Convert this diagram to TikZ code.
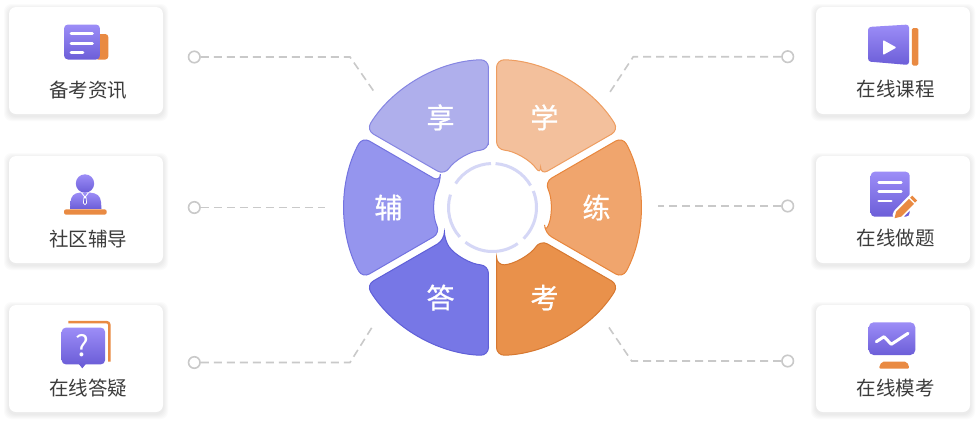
\documentclass[tikz,border=0pt]{standalone}
\usepackage{fontspec}
\newfontfamily\cjk{Noto Sans CJK SC}
\newfontfamily\cjkb{Noto Sans CJK SC}[FakeBold=0.7]
\usetikzlibrary{calc}
\definecolor{pu1}{HTML}{9C8DF7}
\definecolor{pu2}{HTML}{6C5ED8}
\definecolor{org}{HTML}{E98A42}
\definecolor{txt}{HTML}{3C3C3C}
\definecolor{lnc}{HTML}{C9C9C9}
\definecolor{ringc}{HTML}{D5D7F6}
\definecolor{xiangF}{HTML}{AFAFEC}\definecolor{xiangD}{HTML}{8585E2}
\definecolor{fuF}{HTML}{9595EE}\definecolor{fuD}{HTML}{7373E0}
\definecolor{daF}{HTML}{7777E6}\definecolor{daD}{HTML}{5F5FD8}
\definecolor{xueF}{HTML}{F3C09C}\definecolor{xueD}{HTML}{EE9D60}
\definecolor{lianF}{HTML}{F0A56D}\definecolor{lianD}{HTML}{E8863C}
\definecolor{kaoF}{HTML}{E9914B}\definecolor{kaoD}{HTML}{D77830}
\tikzset{
  card/.style={fill=white, rounded corners=7pt, minimum width=154pt, minimum height=107pt, inner sep=0pt},
  lbl/.style={text=txt, font=\cjk\fontsize{19.5}{22}\selectfont, inner sep=0pt},
  seglbl/.style={text=white, font=\cjkb\fontsize{28}{30}\selectfont, inner sep=0pt},
  dot/.style={circle, draw=lnc, line width=1.6pt, fill=white, minimum size=11.5pt, inner sep=0pt},
  conn/.style={draw=lnc, line width=1.6pt, dash pattern=on 8pt off 5pt},
  grad/.style={top color=pu1, bottom color=pu2},
  wline/.style={white, line width=2.6pt, line cap=round}
}
\newcommand\wseg[5]{%
  \filldraw[fill=#3, draw=#4, line width=1pt, rounded corners=8pt]
    (#1+4.02:58) -- (#1+1.55:148) arc[start angle=#1+1.55, end angle=#2-1.55, radius=148]
    -- (#2-4.02:58) arc[start angle=#2-4.02, end angle=#1+4.02, radius=58] -- cycle;
  \node[seglbl] (#5) at ({(#1+#2)/2}:104) {};}
\begin{document}
\begin{tikzpicture}[x=1pt,y=-1pt]
\useasboundingbox (0,0) rectangle (980,424);
\fill[white] (0,0) rectangle (980,424);
% card shadows
\foreach \cx/\cy in {86/60.5,86/209.5,86/358.5,893/60.5,893/209.5,893/358.5}{
  \foreach \k in {1,...,5}{
    \fill[black, opacity=0.016, rounded corners=7pt]
      (\cx-77-\k,\cy-53.5-\k+2) rectangle (\cx+77+\k,\cy+53.5+\k+2);
  }
}
\node[card] (c1) at (86,60.5) {};
\node[card] (c2) at (86,209.5) {};
\node[card] (c3) at (86,358.5) {};
\node[card] (c4) at (893,60.5) {};
\node[card] (c5) at (893,209.5) {};
\node[card] (c6) at (893,358.5) {};
\node[lbl] (t1) at (88,90) {备考资讯};
\node[lbl] (t2) at (88,239) {社区辅导};
\node[lbl] (t3) at (88,388) {在线答疑};
\node[lbl] (t4) at (895.5,89.5) {在线课程};
\node[lbl] (t5) at (895.5,238.5) {在线做题};
\node[lbl] (t6) at (895.5,388) {在线模考};
% icon 1
\fill[org, rounded corners=3pt] (95,34) rectangle (108.3,59.5);
\shade[grad, rounded corners=4pt] (64,24.5) rectangle (100,59.5);
\draw[wline] (71,33.5) -- (92.5,33.5);
\draw[wline] (71,43.2) -- (92.5,43.2);
\draw[wline] (71,52.7) -- (83,52.7);
% icon 2
\shade[grad] (85,183.5) circle (9.2);
\shade[grad] (70,208.8) -- (70.5,202) .. controls (71,196) and (74,193) .. (80,192.6) -- (90,192.6) .. controls (97,193) and (100.5,196) .. (101,202) -- (101.5,208.8) -- cycle;
\draw[white, line width=0.9pt] (81.5,192.6) -- (85,197.3) -- (88.5,192.6);
\draw[white, line width=0.8pt, fill=pu2] (84,197.6) -- (86,197.6) -- (86.6,203) -- (85,204.6) -- (83.4,203) -- cycle;
\fill[org, rounded corners=2pt] (64,209.4) rectangle (106.7,214.6);
% icon 3
\draw[org, line width=2.5pt, rounded corners=2.5pt] (68.3,322.2) -- (109.3,322.2) -- (109.3,361.7);
\shade[grad, rounded corners=4pt] (61.7,327.7) rectangle (105,364.3);
\fill[pu2] (78.5,363.6) -- (82.3,368.3) -- (86.1,363.6) -- cycle;
\node[text=white, font=\cjk\fontsize{29}{30}\selectfont, inner sep=0pt] (q) at (82.8,345.5) {?};
% icon 4
\fill[org, rounded corners=1.5pt] (911.8,28) rectangle (918.3,65.5);
\shade[grad, rounded corners=3pt] (868,27) -- (909,24.5) -- (909,65) -- (868,61.5) -- cycle;
\fill[white, rounded corners=1pt] (883,40) -- (883,55) -- (896.5,47.5) -- cycle;
% icon 5
\shade[grad, rounded corners=4pt] (870.7,171.7) rectangle (909.7,216.7);
\draw[wline] (878.7,182.3) -- (901.3,182.3);
\draw[wline] (878.7,191.7) -- (901.3,191.7);
\draw[wline] (878.7,201) -- (891.3,201);
\draw[white, line width=11pt, line cap=round] (898,214.8) -- (915,197.2);
\fill[org] (894.5,218.3) -- (901.2,216.6) -- (914,203.8) -- (909,198.8) -- (896.2,211.6) -- cycle;
\fill[org] (915.0,202.7) -- (917.1,200.6) -- (912.2,195.7) -- (910.1,197.8) -- cycle;
% icon 6
\shade[grad, rounded corners=5pt] (868.7,322.3) rectangle (915.3,355);
\draw[white, line width=3pt, line cap=round, line join=round] (876.3,341.7) -- (884,336.7) -- (891.3,344.3) -- (908,333.3);
\fill[org, rounded corners=2pt] (878.7,368.6) -- (881.5,361.7) -- (907,361.7) -- (909.7,368.6) -- cycle;
% connectors
\node[dot] (d1) at (194.3,57) {};
\coordinate (b1) at (350,57); \coordinate (e1) at (375,93);
\draw[conn] (d1) -- (b1) -- (e1);
\node[dot] (d2) at (194.3,207.5) {};
\coordinate (e2) at (325,207.5);
\draw[conn] (d2) -- (e2);
\node[dot] (d3) at (194.3,362.5) {};
\coordinate (b3) at (350,362.5); \coordinate (e3) at (372.5,326.5);
\draw[conn] (d3) -- (b3) -- (e3);
\node[dot] (d4) at (787.7,56.7) {};
\coordinate (b4) at (633.3,56.7); \coordinate (e4) at (610,92);
\draw[conn] (d4) -- (b4) -- (e4);
\node[dot] (d5) at (787.7,206) {};
\coordinate (e5) at (658.3,206);
\draw[conn] (d5) -- (e5);
\node[dot] (d6) at (787.7,361) {};
\coordinate (b6) at (631.7,361); \coordinate (e6) at (608.3,326.5);
\draw[conn] (d6) -- (b6) -- (e6);
% wheel
\begin{scope}[shift={(492.5,207.5)}, y=1pt]
  \wseg{30}{90}{xueF}{xueD}{sxue}
  \wseg{90}{150}{xiangF}{xiangD}{sxiang}
  \wseg{150}{210}{fuF}{fuD}{sfu}
  \wseg{210}{270}{daF}{daD}{sda}
  \wseg{270}{330}{kaoF}{kaoD}{skao}
  \wseg{-30}{30}{lianF}{lianD}{slian}
  \node[seglbl] at (sxue) {学};
  \node[seglbl] at (sxiang) {享};
  \node[seglbl] at (sfu) {辅};
  \node[seglbl] at (sda) {答};
  \node[seglbl] at (skao) {考};
  \node[seglbl] at (slian) {练};
  \foreach \a/\b in {30/86, 92/147, 163/222, 232/305, 315/382}{
    \draw[ringc, line width=3pt] (\a:44) arc[start angle=\a, end angle=\b, radius=44];
  }
\end{scope}
\end{tikzpicture}
\end{document}
